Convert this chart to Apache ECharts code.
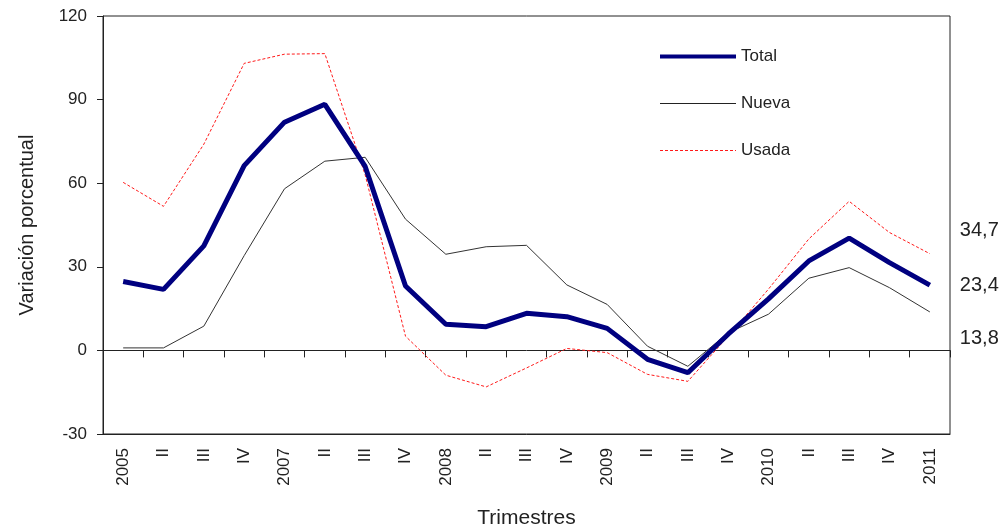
<!DOCTYPE html>
<html>
<head>
<meta charset="utf-8">
<script src="https://cdn.jsdelivr.net/npm/echarts@6/dist/echarts.min.js"></script>
<style>
html,body{margin:0;padding:0;background:#fff;}
#c{width:1007px;height:530px;}
</style>
</head>
<body>
<div id="c"></div>
<script>
var categories = ['2005','II','III','IV','2007','II','III','IV','2008','II','III','IV','2009','II','III','IV','2010','II','III','IV','2011'];
var total = [24.7, 21.9, 37.5, 66.3, 81.9, 88.3, 66.0, 23.1, 9.4, 8.5, 13.3, 12.1, 7.9, -3.2, -8.0, 5.8, 18.5, 32.1, 40.3, 31.5, 23.4];
var nueva = [0.9, 0.9, 8.7, 34.0, 58.0, 67.9, 69.3, 47.1, 34.5, 37.2, 37.7, 23.5, 16.5, 1.5, -5.7, 6.3, 13.0, 25.9, 29.7, 22.5, 13.8];
var usada = [60.3, 51.7, 74.0, 103.0, 106.3, 106.5, 63.0, 5.1, -8.9, -13.1, -6.3, 0.7, -0.8, -8.6, -11.1, 5.1, 22.0, 40.0, 53.5, 42.3, 34.7];
var endLabels = { Total: '23,4', Nueva: '13,8', Usada: '34,7' };
var yTicks = { min: -30, max: 120, interval: 30 };

var FONT = '"Liberation Sans", Arial, sans-serif';
var TXT = '#222';

function endLabel(name, dy) {
  return {
    show: true,
    formatter: function () { return endLabels[name]; },
    offset: [22, dy],
    fontFamily: FONT,
    fontSize: 20,
    color: TXT
  };
}

var chart = echarts.init(document.getElementById('c'), null, { renderer: 'canvas' });
chart.setOption({
  animation: false,
  backgroundColor: '#fff',
  grid: {
    left: 103, right: 57, top: 16, bottom: 96,
    outerBoundsMode: 'none',
    containLabel: false,
    show: true, borderColor: '#222', borderWidth: 1, backgroundColor: 'transparent'
  },
  legend: {
    orient: 'vertical',
    left: 653,
    top: 43,
    itemWidth: 76,
    itemHeight: 2,
    itemGap: 30,
    itemStyle: { opacity: 0 },
    textStyle: { fontFamily: FONT, fontSize: 17, color: TXT, padding: [0, 0, 0, 0], lineHeight: 17 },
    data: [
      { name: 'Total', lineStyle: { width: 4, color: '#000080' } },
      { name: 'Nueva', lineStyle: { width: 1, color: '#222' } },
      { name: 'Usada', lineStyle: { width: 1, color: '#ff1a1a', type: [3, 2] } }
    ]
  },
  xAxis: [
    {
      type: 'category',
      data: categories,
      position: 'bottom',
      boundaryGap: true,
      axisLine: { show: true, onZero: false, lineStyle: { color: '#222', width: 1 } },
      axisTick: { show: false },
      axisLabel: {
        rotate: 90, interval: 0, margin: 14,
        fontFamily: FONT, fontSize: 17, color: TXT
      },
      name: 'Trimestres',
      nameLocation: 'middle',
      nameGap: 74,
      nameTextStyle: { fontFamily: FONT, fontSize: 21, color: TXT }
    },
    {
      type: 'category',
      data: categories,
      position: 'top',
      boundaryGap: true,
      axisLine: { show: true, onZero: true, lineStyle: { color: '#222', width: 1 } },
      axisTick: { show: true, inside: true, length: 7, interval: 0, lineStyle: { color: '#222' } },
      axisLabel: { show: false },
      splitLine: { show: false }
    }
  ],
  yAxis: {
    type: 'value',
    min: yTicks.min, max: yTicks.max, interval: yTicks.interval,
    axisLine: { show: true, lineStyle: { color: '#222', width: 1 } },
    axisTick: { show: true, length: 6, lineStyle: { color: '#222' } },
    splitLine: { show: false },
    axisLabel: { margin: 16, fontFamily: FONT, fontSize: 17, color: TXT },
    name: 'Variación porcentual',
    nameLocation: 'middle',
    nameGap: 66,
    nameTextStyle: { fontFamily: FONT, fontSize: 20, color: TXT }
  },
  series: [
    {
      name: 'Total', type: 'line', data: total, xAxisIndex: 0,
      symbol: 'none', z: 5,
      lineStyle: { color: '#000080', width: 5 },
      itemStyle: { color: '#000080' },
      endLabel: endLabel('Total', 0)
    },
    {
      name: 'Nueva', type: 'line', data: nueva, xAxisIndex: 0,
      symbol: 'none', z: 3,
      lineStyle: { color: '#333', width: 1 },
      itemStyle: { color: '#333' },
      endLabel: endLabel('Nueva', 27)
    },
    {
      name: 'Usada', type: 'line', data: usada, xAxisIndex: 0,
      symbol: 'none', z: 4,
      lineStyle: { color: '#ff1a1a', width: 1, type: [3, 2] },
      itemStyle: { color: '#ff1a1a' },
      endLabel: endLabel('Usada', -23)
    }
  ]
});
</script>
</body>
</html>
